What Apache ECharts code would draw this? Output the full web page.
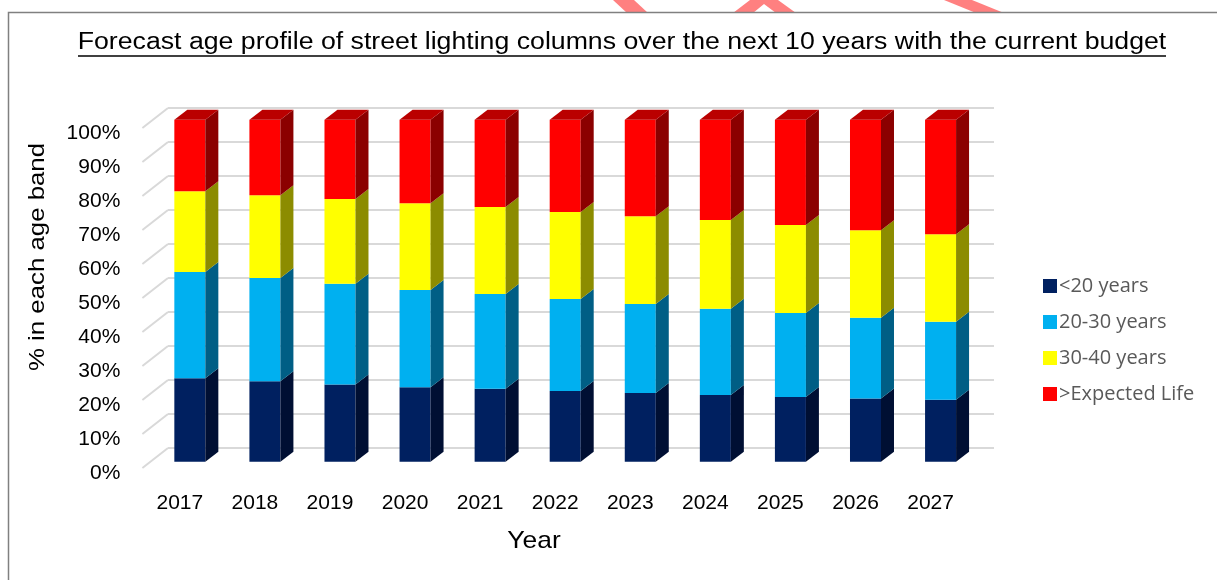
<!DOCTYPE html>
<html>
<head>
<meta charset="utf-8">
<script src="https://cdn.jsdelivr.net/npm/echarts@6/dist/echarts.min.js"></script>
<style>
  html, body { margin: 0; padding: 0; background: #ffffff; }
  #chart { width: 1217px; height: 580px; }
</style>
</head>
<body>
<div id="chart"></div>
<script>
// Share of street lighting columns in each age band, per forecast year (%)
const years = ['2017', '2018', '2019', '2020', '2021', '2022', '2023', '2024', '2025', '2026', '2027'];
const under20 = [24.4, 23.5, 22.6, 21.8, 21.3, 20.7, 20.1, 19.5, 18.9, 18.5, 18.1];
const from20to30 = [31.1, 30.2, 29.4, 28.4, 27.7, 26.9, 26.0, 25.2, 24.6, 23.6, 22.8];
const from30to40 = [23.6, 24.2, 24.8, 25.4, 25.5, 25.4, 25.7, 26.0, 25.7, 25.6, 25.6];
const beyondLife = [20.9, 22.1, 23.2, 24.4, 25.5, 27.0, 28.2, 29.3, 30.8, 32.3, 33.5];
const percentTicks = [0, 10, 20, 30, 40, 50, 60, 70, 80, 90, 100];

const seriesNames = ['<20 years', '20-30 years', '30-40 years', '>Expected Life'];
const bands = [under20, from20to30, from30to40, beyondLife];

// face colours of the 3-D columns: front, right side, top
const frontColors = ['#002060', '#00B0F0', '#FFFF00', '#FF0000'];
const sideColors = ['#000F33', '#005E85', '#8C8C00', '#8B0000'];
const topColor = '#BA0000';

// pseudo-3D depth of a column and of the floor
const COL_DX = 13, COL_DY = 10;
const FLOOR_DX = 25.6, FLOOR_DY = 20;

const chart = echarts.init(document.getElementById('chart'), null, { renderer: 'canvas' });

// stacked [category, start, end] segments for each band
const stackBase = years.map(() => 0);
const segmentData = bands.map(values => values.map((v, i) => {
  const lo = stackBase[i];
  stackBase[i] += v;
  return [i, lo, stackBase[i]];
}));

function columnRenderer(k) {
  return function (params, api) {
    const idx = api.value(0);
    const base = api.coord([idx, api.value(1)]);
    const top = api.coord([idx, api.value(2)]);
    const band = api.size([1, 0])[0];
    const w = band * 0.413;
    const xl = base[0] - w / 2, xr = base[0] + w / 2;
    const yt = top[1], yb = base[1];
    const children = [
      { type: 'rect', shape: { x: xl, y: yt, width: w, height: yb - yt },
        style: { fill: frontColors[k] } },
      { type: 'polygon',
        shape: { points: [[xr, yt], [xr + COL_DX, yt - COL_DY], [xr + COL_DX, yb - COL_DY], [xr, yb]] },
        style: { fill: sideColors[k] } }
    ];
    if (k === bands.length - 1) {
      children.push({ type: 'polygon',
        shape: { points: [[xl, yt], [xl + COL_DX, yt - COL_DY], [xr + COL_DX, yt - COL_DY], [xr, yt]] },
        style: { fill: topColor } });
    }
    return { type: 'group', children };
  };
}

// floor-edge diagonals at each gridline of the back wall
function floorRenderer(params, api) {
  const y = api.coord([0, api.value(1)])[1];
  const x0 = params.coordSys.x;
  return {
    type: 'line',
    shape: { x1: x0, y1: y, x2: x0 - FLOOR_DX, y2: y + FLOOR_DY },
    style: { stroke: '#D9D9D9', lineWidth: 2 }
  };
}

const barSeries = seriesNames.map((name, k) => ({
  name,
  type: 'custom',
  xAxisIndex: 1,
  yAxisIndex: 1,
  z: 5,
  itemStyle: { color: frontColors[k] },
  renderItem: columnRenderer(k),
  encode: { x: 0, y: [1, 2] },
  data: segmentData[k],
  silent: true
}));

const option = {
  animation: false,
  backgroundColor: '#ffffff',
  textStyle: { fontFamily: 'Liberation Sans, Arial, sans-serif' },
  grid: [
    { left: 168, top: 108, width: 826, height: 340 },            // back wall
    { left: 152.3, top: 119.7, width: 825.8, height: 342 },      // columns
    { left: 142.3, top: 133, width: 825.8, height: 340 }         // axis labels
  ],
  xAxis: [
    { gridIndex: 0, type: 'category', data: years, show: false },
    { gridIndex: 1, type: 'category', data: years, show: false },
    { gridIndex: 2, type: 'category', data: years,
      axisLine: { show: false }, axisTick: { show: false },
      axisLabel: { color: '#000000', fontSize: 21, margin: 20,
        fontFamily: 'Liberation Sans, Arial, sans-serif' } }
  ],
  yAxis: [
    { gridIndex: 0, type: 'value', min: 0, max: 100, interval: 10,
      axisLine: { show: false }, axisTick: { show: false }, axisLabel: { show: false },
      splitLine: { lineStyle: { color: '#D9D9D9', width: 2 } } },
    { gridIndex: 1, type: 'value', min: 0, max: 100, show: false },
    { gridIndex: 2, type: 'value', min: 0, max: 100, interval: 10,
      axisLine: { show: false }, axisTick: { show: false }, splitLine: { show: false },
      axisLabel: { color: '#000000', fontSize: 21, margin: 22, formatter: '{value}%',
        fontFamily: 'Liberation Sans, Arial, sans-serif' } }
  ],
  legend: {
    orient: 'vertical',
    left: 1038,
    top: 270,
    itemWidth: 14,
    itemHeight: 14,
    itemGap: 14,
    icon: 'rect',
    data: seriesNames,
    selectedMode: false,
    textStyle: { color: '#595959', fontSize: 20, lineHeight: 22,
      fontFamily: 'Open Sans, Noto Sans, sans-serif', padding: [0, 0, 0, -3] }
  },
  graphic: [
    // watermark fragments along the top edge
    { type: 'polygon', z: 0, shape: { points: [[613, 0], [634, 0], [648, 13], [627, 13]] },
      style: { fill: '#FF8080' } },
    { type: 'polygon', z: 0,
      shape: { points: [[733, 13], [750, 0], [778, 0], [796, 13], [776, 13], [764, 4], [753, 13]] },
      style: { fill: '#FF8080' } },
    { type: 'polygon', z: 0, shape: { points: [[944, 0], [972, 0], [1004, 13], [976, 13]] },
      style: { fill: '#FF8080' } },
    // chart frame
    { type: 'polyline', z: 1, shape: { points: [[8.5, 580], [8.5, 12.5], [1217, 12.5]] },
      style: { stroke: '#808080', lineWidth: 1.5, fill: null } },
    // title with underline
    { type: 'text', z: 10, x: 622, y: 43, scaleX: 1.16,
      style: { text: 'Forecast age profile of street lighting columns over the next 10 years with the current budget',
        fill: '#000000', fontSize: 23, fontFamily: 'Liberation Sans, Arial, sans-serif',
        align: 'center', verticalAlign: 'middle' } },
    { type: 'line', z: 10, shape: { x1: 78, y1: 56, x2: 1166, y2: 56 },
      style: { stroke: '#000000', lineWidth: 1.5 } },
    // axis titles
    { type: 'text', z: 10, x: 38, y: 257, rotation: Math.PI / 2, scaleX: 1.2,
      style: { text: '% in each age band', fill: '#000000', fontSize: 21.5,
        fontFamily: 'Liberation Sans, Arial, sans-serif', align: 'center', verticalAlign: 'middle' } },
    { type: 'text', z: 10, x: 534, y: 541, scaleX: 1.1,
      style: { text: 'Year', fill: '#000000', fontSize: 24,
        fontFamily: 'Liberation Sans, Arial, sans-serif', align: 'center', verticalAlign: 'middle' } }
  ],
  series: [
    {
      name: 'floor',
      type: 'custom',
      xAxisIndex: 0,
      yAxisIndex: 0,
      z: 1,
      silent: true,
      renderItem: floorRenderer,
      data: percentTicks.map(v => [0, v])
    }
  ].concat(barSeries)
};

chart.setOption(option);
</script>
</body>
</html>
